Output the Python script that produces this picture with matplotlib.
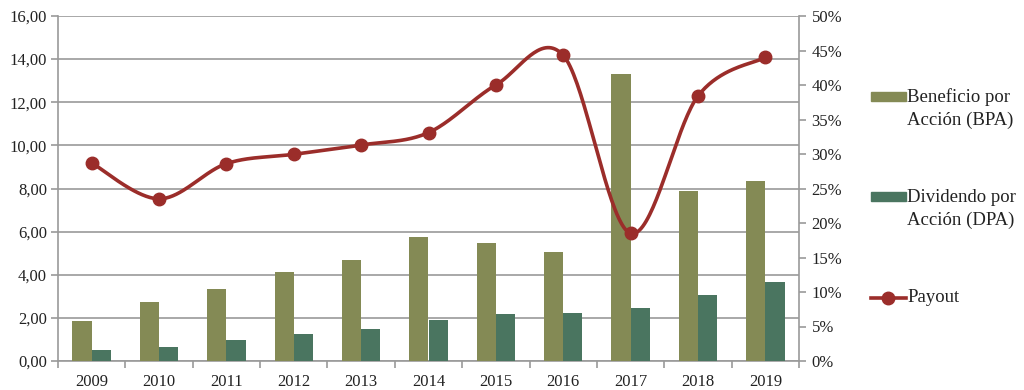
import numpy as np
import matplotlib
matplotlib.use("Agg")
import matplotlib.pyplot as plt
from matplotlib.patches import Rectangle
from matplotlib.lines import Line2D
from matplotlib.ticker import FuncFormatter, MultipleLocator, FixedLocator

years = ["2009", "2010", "2011", "2012", "2013", "2014", "2015", "2016", "2017", "2018", "2019"]
bpa = [1.86, 2.75, 3.35, 4.11, 4.70, 5.75, 5.47, 5.06, 13.31, 7.90, 8.36]
dpa = [0.52, 0.65, 0.96, 1.24, 1.47, 1.90, 2.18, 2.24, 2.47, 3.05, 3.68]
payout = [28.7, 23.5, 28.6, 29.95, 31.3, 33.1, 40.0, 44.3, 18.5, 38.4, 44.0]

c_bpa = "#848A55"
c_dpa = "#4A7560"
c_pay = "#9B2D2A"
c_grid = "#9A9A9A"
c_text = "#222222"
font = "Liberation Serif"
plt.rcParams["font.family"] = [font, "DejaVu Serif"]
plt.rcParams["text.color"] = c_text
plt.rcParams["xtick.labelcolor"] = c_text
plt.rcParams["ytick.labelcolor"] = c_text

fig = plt.figure(figsize=(10.24, 3.9), dpi=100)
ax = fig.add_axes([58/1024, 1-361/390, (799-58)/1024, (361-16)/390])
x = np.arange(len(years))
w = 0.285
ax.bar(x - w/2, bpa, width=w, color=c_bpa, zorder=3)
ax.bar(x + w/2, dpa, width=w, color=c_dpa, zorder=3)
ax.set_xlim(-0.5, len(years) - 0.5)
ax.set_ylim(0, 16)
ax.yaxis.set_major_locator(MultipleLocator(2))
ax.yaxis.set_major_formatter(FuncFormatter(lambda v, p: f"{v:.2f}".replace(".", ",")))
ax.grid(axis="y", color=c_grid, linewidth=1.2, zorder=0)
ax.set_axisbelow(True)
ax.set_xticks(x)
ax.set_xticklabels(years)
ax.xaxis.set_minor_locator(FixedLocator(np.arange(-0.5, len(years), 1)))
ax.tick_params(axis="x", which="major", length=0, labelsize=12, pad=9)
ax.tick_params(axis="x", which="minor", length=5, color=c_grid, width=1.2)
ax.tick_params(axis="y", length=5, color=c_grid, width=1.2, labelsize=12, pad=3)
for s in ["top", "right"]:
    ax.spines[s].set_visible(False)
for s in ["left", "bottom"]:
    ax.spines[s].set_color(c_grid)
    ax.spines[s].set_linewidth(1.2)

ax2 = ax.twinx()
ax2.set_ylim(0, 50)
ax2.yaxis.set_major_locator(MultipleLocator(5))
ax2.yaxis.set_major_formatter(FuncFormatter(lambda v, p: f"{v:.0f}%"))
ax2.tick_params(axis="y", length=5, color=c_grid, width=1.2, labelsize=12, pad=4)
for s in ["top", "left", "bottom"]:
    ax2.spines[s].set_visible(False)
ax2.spines["right"].set_color(c_grid)
ax2.spines["right"].set_linewidth(1.2)

# Catmull-Rom smoothing (Excel-like smoothed line)
P = np.column_stack([x.astype(float), np.array(payout, float)])
pts = []
n = len(P)
for i in range(n - 1):
    p0 = P[i - 1] if i > 0 else P[i]
    p1 = P[i]
    p2 = P[i + 1]
    p3 = P[i + 2] if i + 2 < n else P[i + 1]
    c1 = p1 + (p2 - p0) / 6
    c2 = p2 - (p3 - p1) / 6
    t = np.linspace(0, 1, 40)[:, None]
    seg = (1-t)**3*p1 + 3*(1-t)**2*t*c1 + 3*(1-t)*t**2*c2 + t**3*p2
    pts.append(seg if i == 0 else seg[1:])
curve = np.vstack(pts)
ax2.plot(curve[:, 0], curve[:, 1], color=c_pay, linewidth=2.6, zorder=4, solid_capstyle="round")
ax2.plot(x, payout, "o", color=c_pay, markersize=9, zorder=5)

# Legend (manual)
def fx(px):
    return px / 1024
def fy(py):
    return 1 - py / 390

lfs = 13.5
fig.patches.append(Rectangle((fx(871), fy(101)), 35/1024, 9/390, transform=fig.transFigure, color=c_bpa))
fig.text(fx(907), fy(97), "Beneficio por", fontsize=lfs, va="center", ha="left")
fig.text(fx(907), fy(120), "Acción (BPA)", fontsize=lfs, va="center", ha="left")
fig.patches.append(Rectangle((fx(871), fy(201)), 35/1024, 9/390, transform=fig.transFigure, color=c_dpa))
fig.text(fx(907), fy(197), "Dividendo por", fontsize=lfs, va="center", ha="left")
fig.text(fx(907), fy(220), "Acción (DPA)", fontsize=lfs, va="center", ha="left")
fig.lines.append(Line2D([fx(871), fx(906)], [fy(298), fy(298)], transform=fig.transFigure, color=c_pay, linewidth=2.6))
fig.lines.append(Line2D([fx(888)], [fy(298)], transform=fig.transFigure, color=c_pay, marker="o", markersize=9))
fig.text(fx(907), fy(298), "Payout", fontsize=lfs, va="center", ha="left")

fig.savefig("out.png", dpi=100)
